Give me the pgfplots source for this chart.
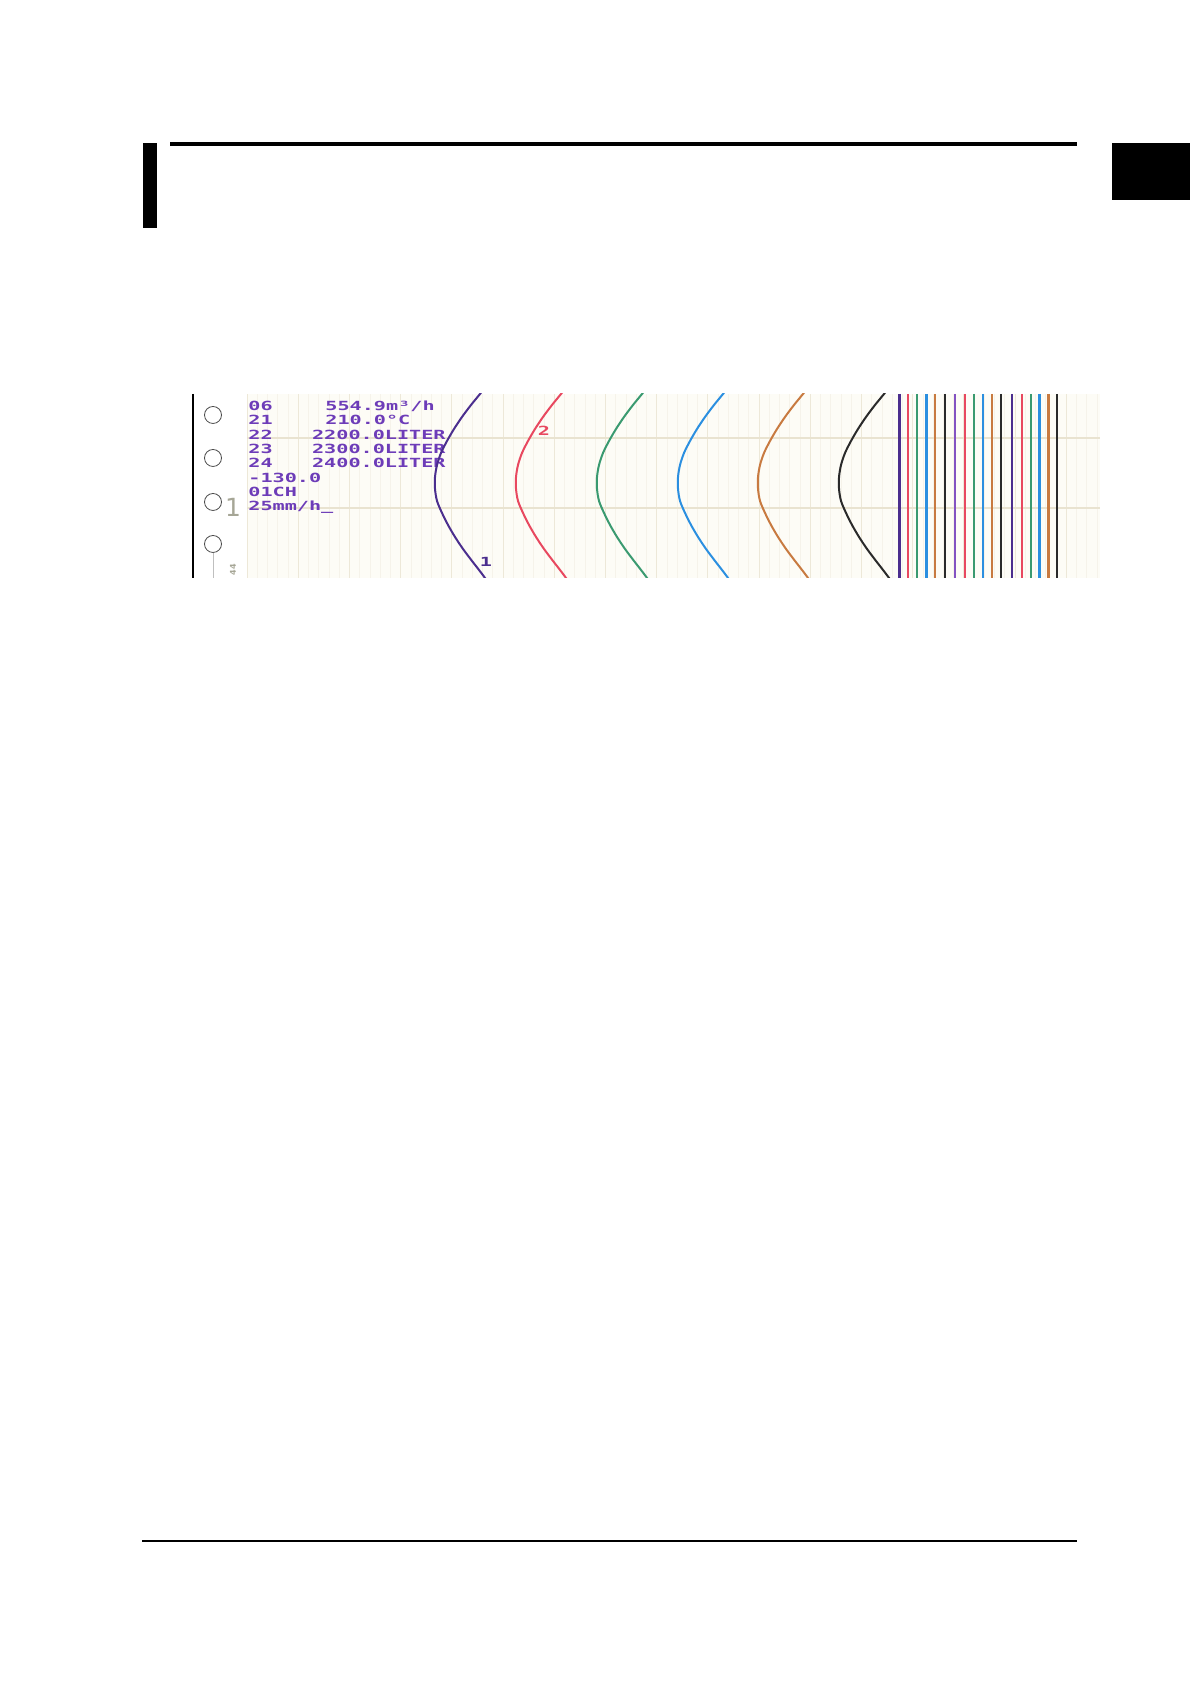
\documentclass[border=0pt]{standalone}
\usepackage{pgfplots}
\usepackage{pgfplotstable}
\pgfplotsset{compat=1.18}
\usepackage{fontspec}
\setmainfont{DejaVu Sans}
\newfontfamily\penfont[FakeStretch=1.6]{DejaVu Sans Mono}
\definecolor{paper}{HTML}{FDFCF6}
\definecolor{gridmaj}{HTML}{EDE8D8}
\definecolor{gridh}{HTML}{E9E3D0}
\definecolor{gridmin}{HTML}{F6F3EA}
\definecolor{pentext}{HTML}{6D3CB8}
\definecolor{penpurple}{HTML}{4B2E8E}
\definecolor{penviolet}{HTML}{8352C2}
\definecolor{penred}{HTML}{E8485F}
\definecolor{pengreen}{HTML}{3A9A70}
\definecolor{penblue}{HTML}{2B8FE0}
\definecolor{penorange}{HTML}{C87A40}
\definecolor{penblack}{HTML}{2A2A2A}
\definecolor{margingray}{HTML}{A6A696}

\pgfplotstableread{
y   x1  x2  x3  x4  x5  x6
385 487 568 649 730 810 891
394 480 561 642 723 803 884
405 471 552 633 714 794 875
417 462 543 624 705 785 866
429 454 535 616 697 777 858
441 447 528 609 690 770 851
453 441 522 603 684 764 845
465 437 518 599 680 760 841
477 435 516 597 678 758 839
489 435 516 597 678 758 839
501 437 518 599 680 760 841
513 442 523 604 685 765 846
525 448 529 610 691 771 852
537 455 536 617 698 778 859
549 463 544 625 706 786 867
561 472 553 634 715 795 876
570 479 560 641 722 802 883
578 485 566 647 728 808 889
585 490 571 652 733 813 894
}\curves

\newcommand\pt[1]{{\penfont\bfseries\fontsize{6.3bp}{6.5bp}\selectfont #1}}

\begin{document}
\begin{tikzpicture}
\begin{scope}[x=0.5bp,y=0.5bp]
\path[use as bounding box] (0,0) rectangle (1190,1684);
% page furniture
\fill (143,1541) rectangle (157,1456);
\fill (170,1542) rectangle (1077,1538);
\fill (1112,1541) rectangle (1190,1484);
\draw[line width=0.75bp] (142,143) -- (1077,143);
% chart margin
\draw[line width=1bp] (193,1290) -- (193,1106);
\foreach \cy in {1269,1226,1182,1140}{
  \draw[line width=0.4bp, black!70] (213,\cy) circle[radius=8.5];
}
\draw[line width=0.4bp, black!25] (213,1131) -- (213,1106);
\node[text=margingray, font=\fontsize{12.5bp}{13bp}\selectfont, inner sep=0] at (233,1177) {1};
\node[text=margingray, font=\fontsize{4bp}{4bp}\selectfont\bfseries, rotate=90, inner sep=0] at (233,1114) {44};
\end{scope}

\begin{axis}[
  at={(123.5bp,553bp)}, anchor=south west,
  scale only axis, width=426.5bp, height=92bp,
  xmin=247, xmax=1100, ymin=394, ymax=578, y dir=reverse,
  axis background/.style={fill=paper},
  axis line style={draw=none},
  tick style={draw=none},
  xticklabels={}, yticklabels={},
  xtick={247,298.2,...,1100}, minor x tick num=4,
  ytick={438,508},
  xmajorgrids, xminorgrids, ymajorgrids,
  major x grid style={draw=gridmaj, line width=0.5bp},
  minor x grid style={draw=gridmin, line width=0.3bp},
  major y grid style={draw=gridh, line width=0.6bp},
  clip=true,
]
% printed text
\node[anchor=base west, inner sep=0, text=pentext] at (axis cs:248,410.5) {\pt{06}};
\node[anchor=base west, inner sep=0, text=pentext] at (axis cs:325,410.5) {\pt{554.9m³/h}};
\node[anchor=base west, inner sep=0, text=pentext] at (axis cs:248,425) {\pt{21}};
\node[anchor=base west, inner sep=0, text=pentext] at (axis cs:325,425) {\pt{210.0°C}};
\node[anchor=base west, inner sep=0, text=pentext] at (axis cs:248,439.2) {\pt{22}};
\node[anchor=base west, inner sep=0, text=pentext] at (axis cs:311.7,439.2) {\pt{2200.0LITER}};
\node[anchor=base west, inner sep=0, text=pentext] at (axis cs:248,453.8) {\pt{23}};
\node[anchor=base west, inner sep=0, text=pentext] at (axis cs:311.7,453.8) {\pt{2300.0LITER}};
\node[anchor=base west, inner sep=0, text=pentext] at (axis cs:248,467.8) {\pt{24}};
\node[anchor=base west, inner sep=0, text=pentext] at (axis cs:311.7,467.8) {\pt{2400.0LITER}};
\node[anchor=base west, inner sep=0, text=pentext] at (axis cs:248,482.5) {\pt{-130.0}};
\node[anchor=base west, inner sep=0, text=pentext] at (axis cs:248,496.5) {\pt{01CH}};
\node[anchor=base west, inner sep=0, text=pentext] at (axis cs:248,510.5) {\pt{25mm/h\_}};
% traces
\addplot[penpurple, line width=1bp, smooth] table[x=x1, y=y]{\curves};
\addplot[penred,    line width=1bp, smooth] table[x=x2, y=y]{\curves};
\addplot[pengreen,  line width=1bp, smooth] table[x=x3, y=y]{\curves};
\addplot[penblue,   line width=1bp, smooth] table[x=x4, y=y]{\curves};
\addplot[penorange, line width=1bp, smooth] table[x=x5, y=y]{\curves};
\addplot[penblack,  line width=1bp, smooth] table[x=x6, y=y]{\curves};
\node[text=penpurple, inner sep=0] at (axis cs:486,562) {\pt{1}};
\node[text=penred, inner sep=0] at (axis cs:544,431) {\pt{2}};
% vertical pen lines
\addplot[penpurple, line width=1.2bp] coordinates {(899.3,394) (899.3,578)};
\addplot[penred,    line width=1.2bp] coordinates {(908,394) (908,578)};
\addplot[pengreen,  line width=1.2bp] coordinates {(917,394) (917,578)};
\addplot[penblue,   line width=1.2bp] coordinates {(926.3,394) (926.3,578)};
\addplot[penorange, line width=1.2bp] coordinates {(935,394) (935,578)};
\addplot[penblack,  line width=1.2bp] coordinates {(944.7,394) (944.7,578)};
\addplot[penviolet, line width=1.2bp] coordinates {(955,394) (955,578)};
\addplot[penred,    line width=1.2bp] coordinates {(965,394) (965,578)};
\addplot[pengreen,  line width=1.2bp] coordinates {(974,394) (974,578)};
\addplot[penblue,   line width=1.2bp] coordinates {(982.7,394) (982.7,578)};
\addplot[penorange, line width=1.2bp] coordinates {(991.7,394) (991.7,578)};
\addplot[penblack,  line width=1.2bp] coordinates {(1001,394) (1001,578)};
\addplot[penpurple, line width=1.2bp] coordinates {(1012,394) (1012,578)};
\addplot[penred,    line width=1.2bp] coordinates {(1021.7,394) (1021.7,578)};
\addplot[pengreen,  line width=1.2bp] coordinates {(1030.7,394) (1030.7,578)};
\addplot[penblue,   line width=1.2bp] coordinates {(1039.3,394) (1039.3,578)};
\addplot[penorange, line width=1.2bp] coordinates {(1048.3,394) (1048.3,578)};
\addplot[penblack,  line width=1.2bp] coordinates {(1057,394) (1057,578)};
\end{axis}
\end{tikzpicture}
\end{document}
